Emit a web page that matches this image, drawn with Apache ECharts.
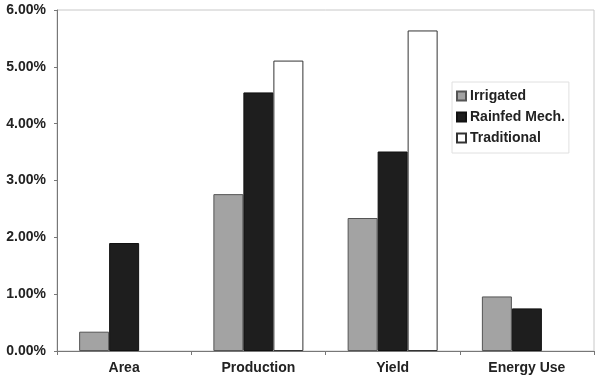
<!DOCTYPE html>
<html>
<head>
<meta charset="utf-8">
<script src="https://cdn.jsdelivr.net/npm/echarts@6/dist/echarts.min.js"></script>
<style>
html,body{margin:0;padding:0;background:#fff;}
#chart{width:599px;height:380px;}
</style>
</head>
<body>
<div id="chart"></div>
<script>
var categories = ['Area', 'Production', 'Yield', 'Energy Use'];
var irrigated = [0.34, 2.76, 2.34, 0.96];
var rainfedMech = [1.90, 4.55, 3.51, 0.75];
var traditional = [null, 5.11, 5.64, null];
var seriesNames = ['Irrigated', 'Rainfed Mech.', 'Traditional'];

var chart = echarts.init(document.getElementById('chart'), null, {renderer: 'canvas'});
var font = 'Arial, "Liberation Sans", sans-serif';
chart.setOption({
  animation: false,
  backgroundColor: '#fff',
  grid: {left: 57, right: 5, top: 10, bottom: 29, show: true, borderColor: '#c8c8c8', borderWidth: 1},
  legend: {
    orient: 'vertical',
    left: 452, top: 82,
    padding: [7, 4, 8, 4],
    itemWidth: 9, itemHeight: 9, itemGap: 7,
    icon: 'rect',
    borderColor: '#e0e0e0', borderWidth: 1,
    textStyle: {fontFamily: font, fontSize: 14, fontWeight: 'bold', color: '#222', padding: [0,0,0,-1]},
    data: seriesNames
  },
  xAxis: {
    type: 'category',
    data: categories,
    axisLine: {lineStyle: {color: '#777', width: 1}},
    axisTick: {show: true, length: 4, lineStyle: {color: '#777'}},
    axisLabel: {margin: 10, fontFamily: font, fontSize: 14, fontWeight: 'bold', color: '#222'}
  },
  yAxis: {
    type: 'value', min: 0, max: 6, interval: 1,
    axisLine: {show: true, lineStyle: {color: '#777', width: 1}},
    axisTick: {show: true, length: 3, lineStyle: {color: '#777'}},
    splitLine: {show: false},
    axisLabel: {margin: 11, fontFamily: font, fontSize: 14, fontWeight: 'bold', color: '#222',
      formatter: function (v) { return v.toFixed(2) + '%'; }}
  },
  series: [
    {name: seriesNames[0], type: 'bar', data: irrigated, barWidth: 30, barGap: '0%',
      itemStyle: {color: '#a3a3a3', borderColor: '#555', borderWidth: 1}},
    {name: seriesNames[1], type: 'bar', data: rainfedMech, barWidth: 30, barGap: '0%',
      itemStyle: {color: '#1e1e1e', borderColor: '#111', borderWidth: 1}},
    {name: seriesNames[2], type: 'bar', data: traditional, barWidth: 30, barGap: '0%',
      itemStyle: {color: '#ffffff', borderColor: '#333', borderWidth: 1}}
  ]
});
</script>
</body>
</html>
